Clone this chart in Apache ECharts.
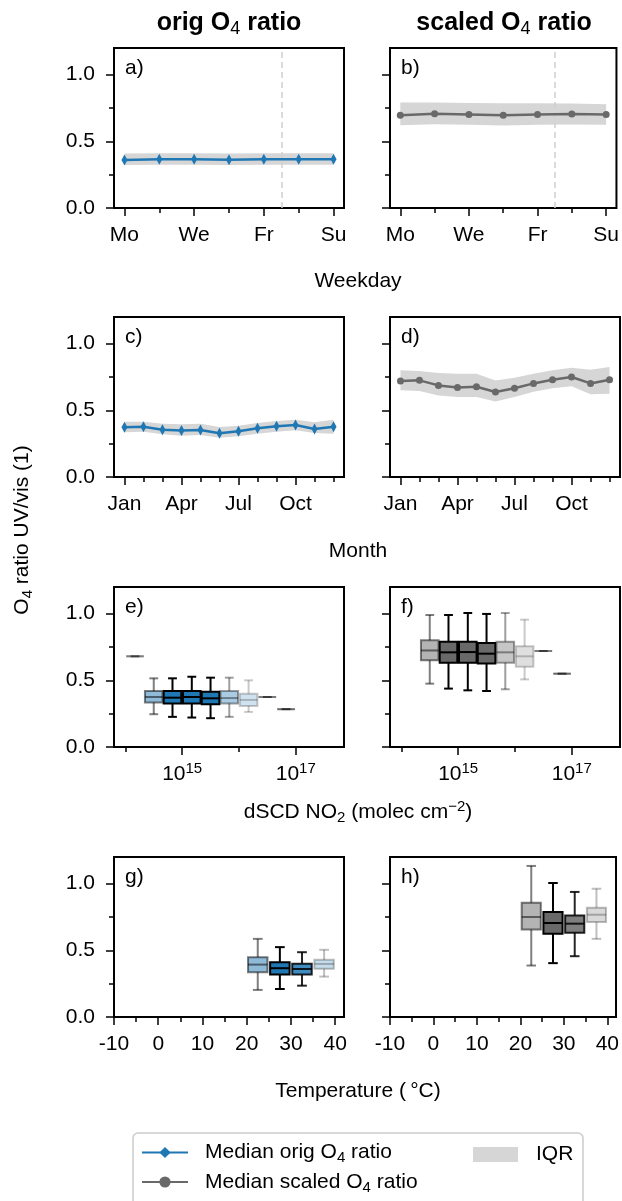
<!DOCTYPE html>
<html>
<head>
<meta charset="utf-8">
<script src="https://cdn.jsdelivr.net/npm/echarts@6/dist/echarts.min.js"></script>
<style>
html, body { margin: 0; padding: 0; background: #fff; }
#chart { width: 622px; height: 1201px; }
</style>
</head>
<body>
<div id="chart"></div>
<script>
// weekday cycle
var dayNames = ['Mo', 'Tu', 'We', 'Th', 'Fr', 'Sa', 'Su'];
var dayPos = [0, 1, 2, 3, 4, 5, 6];
var origDayMed = [0.360, 0.366, 0.365, 0.362, 0.365, 0.366, 0.365];
var origDayQ1 = [0.322, 0.325, 0.324, 0.322, 0.324, 0.325, 0.324];
var origDayQ3 = [0.408, 0.411, 0.410, 0.408, 0.410, 0.411, 0.410];
var scaledDayMed = [0.695, 0.707, 0.702, 0.695, 0.702, 0.705, 0.702];
var scaledDayQ1 = [0.620, 0.628, 0.625, 0.618, 0.624, 0.627, 0.625];
var scaledDayQ3 = [0.792, 0.792, 0.788, 0.785, 0.785, 0.783, 0.778];
var weekendLine = 4.5;

// annual cycle
var monthNames = ['Jan', 'Feb', 'Mar', 'Apr', 'May', 'Jun', 'Jul', 'Aug', 'Sep', 'Oct', 'Nov', 'Dec'];
var monthPos = [0, 1, 2, 3, 4, 5, 6, 7, 8, 9, 10, 11];
var origMonMed = [0.374, 0.377, 0.355, 0.348, 0.353, 0.328, 0.343, 0.365, 0.380, 0.390, 0.360, 0.377];
var origMonQ1 = [0.335, 0.340, 0.320, 0.310, 0.315, 0.295, 0.305, 0.325, 0.340, 0.350, 0.330, 0.325];
var origMonQ3 = [0.415, 0.415, 0.400, 0.395, 0.400, 0.375, 0.385, 0.405, 0.420, 0.430, 0.410, 0.430];
var scaledMonMed = [0.720, 0.725, 0.687, 0.672, 0.677, 0.637, 0.665, 0.702, 0.730, 0.750, 0.702, 0.730];
var scaledMonQ1 = [0.650, 0.645, 0.612, 0.600, 0.600, 0.566, 0.600, 0.640, 0.665, 0.680, 0.620, 0.625];
var scaledMonQ3 = [0.800, 0.795, 0.780, 0.775, 0.775, 0.724, 0.745, 0.775, 0.800, 0.820, 0.805, 0.825];

// dSCD NO2 bins (log10 of bin centre)
var no2Exp = [14.17, 14.5, 14.83, 15.17, 15.5, 15.83, 16.17, 16.5, 16.83];
var no2OrigLo = [0.68, 0.246, 0.226, 0.221, 0.216, 0.226, 0.263, 0.375, 0.284];
var no2OrigQ1 = [0.68, 0.334, 0.327, 0.327, 0.320, 0.327, 0.308, 0.375, 0.284];
var no2OrigMed = [0.68, 0.375, 0.370, 0.375, 0.365, 0.367, 0.353, 0.375, 0.284];
var no2OrigQ3 = [0.68, 0.420, 0.420, 0.420, 0.415, 0.420, 0.400, 0.375, 0.284];
var no2OrigHi = [0.68, 0.515, 0.515, 0.527, 0.520, 0.520, 0.500, 0.375, 0.284];
var no2ScaledLo = [null, 0.475, 0.438, 0.425, 0.420, 0.433, 0.507, 0.72, 0.55];
var no2ScaledQ1 = [null, 0.650, 0.632, 0.632, 0.627, 0.632, 0.602, 0.72, 0.55];
var no2ScaledMed = [null, 0.724, 0.710, 0.712, 0.700, 0.710, 0.680, 0.72, 0.55];
var no2ScaledQ3 = [null, 0.800, 0.790, 0.790, 0.780, 0.790, 0.756, 0.72, 0.55];
var no2ScaledHi = [null, 0.990, 0.990, 1.005, 0.998, 1.005, 0.955, 0.72, 0.55];

// temperature bins (deg C)
var tempMid = [22.5, 27.5, 32.5, 37.5];
var tempOrigLo = [0.203, 0.210, 0.235, 0.303];
var tempOrigQ1 = [0.336, 0.318, 0.318, 0.361];
var tempOrigMed = [0.393, 0.366, 0.360, 0.398];
var tempOrigQ3 = [0.449, 0.411, 0.400, 0.429];
var tempOrigHi = [0.586, 0.524, 0.486, 0.504];
var tempScaledLo = [0.386, 0.404, 0.456, 0.586];
var tempScaledQ1 = [0.656, 0.624, 0.632, 0.712];
var tempScaledMed = [0.750, 0.705, 0.700, 0.767];
var tempScaledQ3 = [0.857, 0.787, 0.762, 0.820];
var tempScaledHi = [1.133, 1.005, 0.938, 0.962];

// tick values
var yTicks = [0, 0.5, 1.0];
var yMinor = [0.25, 0.75];
var dayTicks = [0, 2, 4, 6];
var dayMinor = [1, 3, 5];
var monthTicks = [0, 3, 6, 9];
var monthMinor = [1, 2, 4, 5, 7, 8, 10, 11];
var no2Ticks = [15, 17];
var no2Minor = [14, 16];
var tempTicks = [-10, 0, 10, 20, 30, 40];
var tempMinor = [-5, 5, 15, 25, 35];

// styles
var fam = '"Liberation Sans", Arial, Helvetica, sans-serif';
var blue = '#1f77b4';
var dimgrey = '#696969';
var bandColor = '#d6d6d6';
var no2Alpha = [0.3, 0.5, 1, 1, 1, 0.38, 0.21, 0.3, 0.35];
var tempAlpha = [0.5, 1, 0.85, 0.25];
var colLeft = [114, 390];
var rowTop = [48, 317, 587, 857];
var panelW = 230;
var panelH = 160;
var nameOrig = 'Median orig O4 ratio';
var nameScaled = 'Median scaled O4 ratio';

var rich = {
    n: {fontFamily: fam, fontSize: 21, color: '#000', lineHeight: 26},
    s: {fontFamily: fam, fontSize: 15, color: '#000', verticalAlign: 'bottom', lineHeight: 11},
    p: {fontFamily: fam, fontSize: 15, color: '#000', verticalAlign: 'top', lineHeight: 19},
    b: {fontFamily: fam, fontSize: 25, fontWeight: 'bold', color: '#000', lineHeight: 30},
    bs: {fontFamily: fam, fontSize: 18, color: '#000', verticalAlign: 'bottom', lineHeight: 14}
};

var xSpecs = {
    day: {min: -0.3, max: 6.3, major: dayTicks, minor: dayMinor, fmt: function (v) { return '{n|' + dayNames[v] + '}'; }},
    month: {min: -0.55, max: 11.55, major: monthTicks, minor: monthMinor, fmt: function (v) { return '{n|' + monthNames[v] + '}'; }},
    no2: {min: 13.8, max: 17.85, major: no2Ticks, minor: no2Minor, fmt: function (v) { return '{n|10}{p|' + v + '}'; }},
    temp: {min: -10, max: 42, major: tempTicks, minor: tempMinor, fmt: function (v) { return '{n|' + v + '}'; }}
};

var grids = [], xAxes = [], yAxes = [], series = [];

function axis(dim, p, min, max, ticks, len, labels, fmt) {
    return {
        gridIndex: p, type: 'value', min: min, max: max,
        position: dim == 'x' ? 'bottom' : 'left',
        axisLine: {show: false, onZero: false},
        splitLine: {show: false},
        axisTick: {show: true, inside: false, length: len, customValues: ticks, lineStyle: {color: '#000', width: 1.5}},
        axisLabel: {show: labels, customValues: ticks, formatter: fmt, margin: dim == 'x' ? 14 : 19, color: '#000', rich: rich}
    };
}

function addPanel(p, col, row, xs) {
    grids.push({left: colLeft[col], top: rowTop[row], width: panelW, height: panelH, show: true,
        borderColor: '#000', borderWidth: 2, backgroundColor: 'transparent'});
    xAxes.push(axis('x', p, xs.min, xs.max, xs.major, 8, true, xs.fmt));
    xAxes.push(axis('x', p, xs.min, xs.max, xs.minor, 5, false));
    yAxes.push(axis('y', p, 0, 1.2, yTicks, 8, col == 0, function (v) { return '{n|' + v.toFixed(1) + '}'; }));
    yAxes.push(axis('y', p, 0, 1.2, yMinor, 5, false));
}

function bandSeries(p, xs, lo, hi) {
    return {
        type: 'custom', name: 'IQR', xAxisIndex: 2 * p, yAxisIndex: 2 * p, z: 1, silent: true,
        itemStyle: {color: bandColor},
        data: xs.map(function (x, i) { return [x, lo[i], hi[i]]; }),
        renderItem: function (params, api) {
            if (params.dataIndex !== 0) {
                return;
            }
            var pts = [];
            for (var i = 0; i < xs.length; i++) {
                pts.push(api.coord([xs[i], hi[i]]));
            }
            for (var i = xs.length - 1; i >= 0; i--) {
                pts.push(api.coord([xs[i], lo[i]]));
            }
            return {type: 'polygon', shape: {points: pts}, style: {fill: bandColor}};
        }
    };
}

function lineSeries(p, name, xs, ys, scaled, dashed) {
    var s = {
        type: 'line', name: name, xAxisIndex: 2 * p, yAxisIndex: 2 * p, z: 3,
        data: xs.map(function (x, i) { return [x, ys[i]]; }),
        color: scaled ? dimgrey : blue,
        symbol: scaled ? 'circle' : 'diamond',
        symbolSize: scaled ? 7 : [6, 11],
        lineStyle: {width: 2.5, color: scaled ? dimgrey : blue},
        itemStyle: {color: scaled ? dimgrey : blue}
    };
    if (dashed) {
        s.markLine = {
            silent: true, symbol: ['none', 'none'], label: {show: false}, z: 2,
            lineStyle: {type: [6, 4], color: '#d0d0d0', width: 1.5},
            data: [{xAxis: weekendLine}]
        };
    }
    return s;
}

function edge(a) {
    return {stroke: '#000', lineWidth: 2, opacity: a};
}

function boxSeries(p, xs, lo, q1, med, q3, hi, alpha, face, bw) {
    var rows = [];
    for (var i = 0; i < xs.length; i++) {
        if (med[i] !== null) {
            rows.push([xs[i], lo[i], q1[i], med[i], q3[i], hi[i], alpha[i]]);
        }
    }
    return {
        type: 'custom', name: 'box' + p, xAxisIndex: 2 * p, yAxisIndex: 2 * p, z: 3, silent: true,
        data: rows,
        renderItem: function (params, api) {
            var x = api.value(0);
            var yl = api.coord([x, api.value(1)])[1];
            var y1 = api.coord([x, api.value(2)])[1];
            var ym = api.coord([x, api.value(3)])[1];
            var y3 = api.coord([x, api.value(4)])[1];
            var yh = api.coord([x, api.value(5)])[1];
            var cx = api.coord([x, 0])[0];
            var a = api.value(6);
            var w = api.size([bw, 0])[0];
            return {type: 'group', children: [
                {type: 'line', shape: {x1: cx, y1: y1, x2: cx, y2: yl}, style: edge(a)},
                {type: 'line', shape: {x1: cx, y1: y3, x2: cx, y2: yh}, style: edge(a)},
                {type: 'line', shape: {x1: cx - w / 4, y1: yl, x2: cx + w / 4, y2: yl}, style: edge(a)},
                {type: 'line', shape: {x1: cx - w / 4, y1: yh, x2: cx + w / 4, y2: yh}, style: edge(a)},
                {type: 'rect', shape: {x: cx - w / 2, y: y3, width: w, height: y1 - y3},
                    style: {fill: face, stroke: '#000', lineWidth: 2, opacity: a}},
                {type: 'line', shape: {x1: cx - w / 2, y1: ym, x2: cx + w / 2, y2: ym}, style: edge(a)}
            ]};
        }
    };
}

addPanel(0, 0, 0, xSpecs.day);
addPanel(1, 1, 0, xSpecs.day);
addPanel(2, 0, 1, xSpecs.month);
addPanel(3, 1, 1, xSpecs.month);
addPanel(4, 0, 2, xSpecs.no2);
addPanel(5, 1, 2, xSpecs.no2);
addPanel(6, 0, 3, xSpecs.temp);
addPanel(7, 1, 3, xSpecs.temp);

series.push(bandSeries(0, dayPos, origDayQ1, origDayQ3));
series.push(lineSeries(0, nameOrig, dayPos, origDayMed, false, true));
series.push(bandSeries(1, dayPos, scaledDayQ1, scaledDayQ3));
series.push(lineSeries(1, nameScaled, dayPos, scaledDayMed, true, true));
series.push(bandSeries(2, monthPos, origMonQ1, origMonQ3));
series.push(lineSeries(2, nameOrig, monthPos, origMonMed, false, false));
series.push(bandSeries(3, monthPos, scaledMonQ1, scaledMonQ3));
series.push(lineSeries(3, nameScaled, monthPos, scaledMonMed, true, false));
series.push(boxSeries(4, no2Exp, no2OrigLo, no2OrigQ1, no2OrigMed, no2OrigQ3, no2OrigHi, no2Alpha, blue, 0.31));
series.push(boxSeries(5, no2Exp, no2ScaledLo, no2ScaledQ1, no2ScaledMed, no2ScaledQ3, no2ScaledHi, no2Alpha, dimgrey, 0.31));
series.push(boxSeries(6, tempMid, tempOrigLo, tempOrigQ1, tempOrigMed, tempOrigQ3, tempOrigHi, tempAlpha, blue, 4.4));
series.push(boxSeries(7, tempMid, tempScaledLo, tempScaledQ1, tempScaledMed, tempScaledQ3, tempScaledHi, tempAlpha, dimgrey, 4.4));

function txt(x, y, text, rot) {
    return {type: 'text', x: x, y: y, rotation: rot || 0, z: 10,
        style: {text: text, rich: rich, align: 'center', verticalAlign: 'middle', textAlign: 'center', textVerticalAlign: 'middle'}};
}
function letter(col, row, l) {
    return {type: 'text', x: colLeft[col] + 11, y: rowTop[row] + 20, z: 10,
        style: {text: '{n|' + l + ')}', rich: rich, align: 'left', verticalAlign: 'middle', textAlign: 'left', textVerticalAlign: 'middle'}};
}

var graphics = [
    txt(229, 23, '{b|orig O}{bs|4}{b| ratio}'),
    txt(504, 23, '{b|scaled O}{bs|4}{b| ratio}'),
    txt(358, 281, '{n|Weekday}'),
    txt(358, 551, '{n|Month}'),
    txt(358, 812, '{n|dSCD NO}{s|2}{n| (molec cm}{p|\u22122}{n|)}'),
    txt(358, 1091, '{n|Temperature (\u2009\u00b0C)}'),
    txt(22, 530, '{n|O}{s|4}{n| ratio UV/vis (1)}', Math.PI / 2),
    {type: 'rect', shape: {x: 133, y: 1133, width: 450, height: 90, r: 5}, z: 0,
        style: {fill: '#fff', stroke: '#cccccc', lineWidth: 1.5}}
];
var letters = ['a', 'b', 'c', 'd', 'e', 'f', 'g', 'h'];
for (var i = 0; i < letters.length; i++) {
    graphics.push(letter(i % 2, Math.floor(i / 2), letters[i]));
}

function legendFmt(name) {
    if (name == 'IQR') {
        return '{n|IQR}';
    }
    var parts = name.split('O4');
    return '{n|' + parts[0] + 'O}{s|4}{n|' + parts[1] + '}';
}

var chart = echarts.init(document.getElementById('chart'), null, {renderer: 'canvas'});
chart.setOption({
    animation: false,
    backgroundColor: '#fff',
    grid: grids,
    xAxis: xAxes,
    yAxis: yAxes,
    series: series,
    graphic: graphics,
    legend: [{
        data: [nameOrig, nameScaled], orient: 'vertical', left: 136, top: 1137,
        itemWidth: 46, itemHeight: 14, itemGap: 6, selectedMode: false, z: 5,
        formatter: legendFmt, textStyle: {rich: rich, padding: [0, 0, 0, 12]}
    }, {
        data: [{name: 'IQR', icon: 'rect', itemStyle: {color: bandColor}}], left: 468, top: 1139,
        itemWidth: 45, itemHeight: 15, selectedMode: false, z: 5,
        formatter: legendFmt, textStyle: {rich: rich, padding: [0, 0, 0, 13]}
    }]
});
</script>
</body>
</html>
